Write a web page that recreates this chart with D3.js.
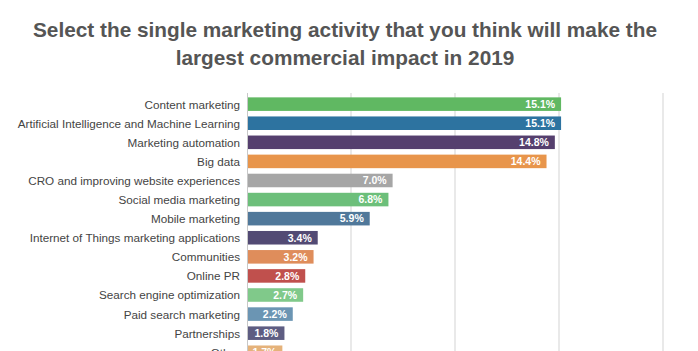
<!DOCTYPE html>
<html><head><meta charset="utf-8">
<script src="https://cdn.jsdelivr.net/npm/d3@7"></script>
<style>html,body{margin:0;padding:0;background:#fff;overflow:hidden}</style>
</head><body>
<svg id="c" width="698" height="351"></svg>
<script>
const titleLines = ["Select the single marketing activity that you think will make the","largest commercial impact in 2019"];
const categories = ["Content marketing","Artificial Intelligence and Machine Learning","Marketing automation","Big data","CRO and improving website experiences","Social media marketing","Mobile marketing","Internet of Things marketing applications","Communities","Online PR","Search engine optimization","Paid search marketing","Partnerships","Other"];
const values = [15.1,15.1,14.8,14.4,7.0,6.8,5.9,3.4,3.2,2.8,2.7,2.2,1.8,1.7];
const colors = ["#60b862","#2d73a0","#553f6e","#e8954b","#a6a6a6","#6cbf7a","#50789a","#524a74","#df8d5b","#c0504d","#80c98a","#6b95b3","#5e5d82","#e5b27a"];
const xTicks = [0,5,10,15,20];

const svg = d3.select("#c");
const x = d3.scaleLinear().domain([0,20]).range([247,663]);
const y = d3.scaleBand().domain(categories).range([94.5, 94.5+19.1*categories.length]).paddingInner(0.29).paddingOuter(0.15);

// title
svg.append("g").selectAll("text").data(titleLines).join("text")
  .attr("x",345).attr("y",(d,i)=>37+i*27.5).attr("text-anchor","middle")
  .attr("font-family","Liberation Sans, Arial, sans-serif").attr("font-weight","bold")
  .attr("font-size",20.8).attr("fill","#555").text(d=>d);

// gridlines
svg.append("g").selectAll("line").data(xTicks.slice(1)).join("line")
  .attr("x1",d=>x(d)).attr("x2",d=>x(d)).attr("y1",93).attr("y2",360)
  .attr("stroke","#d3d3d3").attr("stroke-width",1);

// bars
svg.append("g").selectAll("rect").data(categories).join("rect")
  .attr("x",x(0)).attr("y",d=>y(d)).attr("height",y.bandwidth())
  .attr("width",(d,i)=>x(values[i])-x(0)).attr("fill",(d,i)=>colors[i]);

// axis line
svg.append("line").attr("x1",x(0)+0.5).attr("x2",x(0)+0.5).attr("y1",93).attr("y2",360).attr("stroke","#c8c8c8");

// category labels
svg.append("g").selectAll("text").data(categories).join("text")
  .attr("x",240).attr("y",d=>y(d)+y.bandwidth()/2).attr("dy","0.38em")
  .attr("text-anchor","end").attr("font-family","Liberation Sans, Arial, sans-serif")
  .attr("font-size",11.7).attr("fill","#444").text(d=>d);

// value labels
svg.append("g").selectAll("text").data(categories).join("text")
  .attr("x",(d,i)=>x(values[i])-6).attr("y",d=>y(d)+y.bandwidth()/2).attr("dy","0.36em")
  .attr("text-anchor","end").attr("font-family","Liberation Sans, Arial, sans-serif")
  .attr("font-weight","bold").attr("font-size",10.5).attr("fill","#fff")
  .text((d,i)=>values[i].toFixed(1)+"%");
</script>
</body></html>
